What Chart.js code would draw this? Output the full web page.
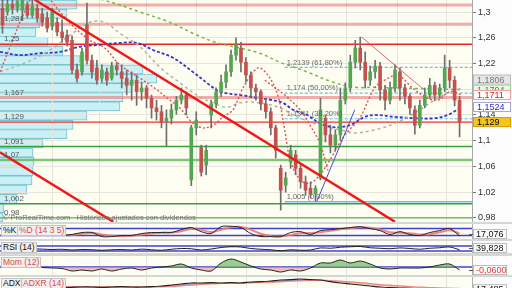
<!DOCTYPE html>
<html>
<head>
<meta charset="utf-8">
<script src="https://cdn.jsdelivr.net/npm/chart.js@4.4.0/dist/chart.umd.min.js"></script>
<style>
  body { margin: 0; background: #fff; }
  #wrap { position: relative; width: 512px; height: 288px; overflow: hidden; background: #d3d7d7; font-family: "Liberation Sans", Arial, sans-serif; }
  .pane { position: absolute; left: 0; width: 512px; background: #fdfdf2; overflow: hidden; }
  .rbg { position: absolute; left: 472px; top: 0; width: 40px; height: 100%; background: #fcfcfc; }
  canvas { position: absolute; left: 0; top: 0; }
  .ttl { position: absolute; top: 1px; font-size: 8.5px; line-height: 9px; padding: 0 1px; background: #f0f0ee; border: 1px solid #c4c4c4; color: #111; white-space: nowrap; }
  .red { color: #e04848; }
  .foot { position: absolute; left: 3px; top: 213px; font-size: 7.5px; color: #777; white-space: pre; }
</style>
</head>
<body>
<div id="wrap">
  <div class="pane" style="top:0;height:222px">
    <div class="rbg"></div>
    <canvas id="profile" width="472" height="222"></canvas>
    <canvas id="main" width="512" height="222"></canvas>
    <div class="foot">© ProRealTime.com   Históricos ajustados con dividendos</div>
  </div>
  <div class="pane" style="top:224px;height:15px">
    <div class="rbg"></div>
    <canvas id="stoch" width="512" height="15"></canvas>
    <div class="ttl" style="left:1px">%K</div><div class="ttl red" style="left:17px">%D (14 3 5)</div>
  </div>
  <div class="pane" style="top:241px;height:12px">
    <div class="rbg"></div>
    <canvas id="rsi" width="512" height="12"></canvas>
    <div class="ttl" style="left:1px">RSI (14)</div>
  </div>
  <div class="pane" style="top:256px;height:19px">
    <div class="rbg"></div>
    <canvas id="mom" width="512" height="19"></canvas>
    <div class="ttl red" style="left:1px">Mom (12)</div>
  </div>
  <div class="pane" style="top:277px;height:23px">
    <div class="rbg"></div>
    <canvas id="adx" width="512" height="23"></canvas>
    <div class="ttl" style="left:1px">ADX</div><div class="ttl red" style="left:21px">ADXR (14)</div>
  </div>
</div>
<script>
// candles, one per bar slot
const opens = [1.306,1.300,1.312,1.306,1.303,1.311,1.295,1.306,1.297,1.291,1.278,1.284,1.269,1.264,1.256,1.210,1.207,1.280,1.225,1.213,
  1.197,1.207,1.197,1.216,1.207,1.197,1.186,1.194,1.176,1.182,1.166,1.151,1.145,1.129,1.135,1.148,1.163,1.171,1.039,1.120,
  1.089,1.062,1.140,1.157,1.176,1.191,1.207,1.233,1.244,1.222,1.202,1.182,1.176,1.157,1.145,1.120,1.057,1.031,1.067,1.078,
  1.057,1.036,1.026,1.017,1.042,1.135,1.109,1.093,1.109,1.163,1.182,1.222,1.244,1.222,1.194,1.207,1.216,1.179,1.163,1.182,
  1.207,1.182,1.169,1.148,1.124,1.155,1.171,1.186,1.171,1.182,1.213,1.194,1.163];
const highs = [1.319,1.325,1.328,1.331,1.331,1.316,1.322,1.312,1.306,1.300,1.306,1.291,1.288,1.272,1.263,1.219,1.244,1.314,1.233,1.225,
  1.218,1.213,1.222,1.222,1.218,1.210,1.207,1.202,1.191,1.186,1.171,1.163,1.155,1.148,1.157,1.169,1.182,1.176,1.124,1.145,
  1.093,1.093,1.163,1.182,1.202,1.218,1.241,1.260,1.253,1.229,1.207,1.188,1.179,1.166,1.151,1.124,1.062,1.051,1.093,1.085,
  1.062,1.045,1.036,1.030,1.166,1.140,1.124,1.117,1.182,1.190,1.233,1.256,1.261,1.238,1.216,1.225,1.222,1.186,1.191,1.218,
  1.213,1.188,1.173,1.154,1.163,1.182,1.197,1.191,1.188,1.233,1.225,1.200,1.169];
const lows = [1.267,1.295,1.297,1.300,1.288,1.291,1.291,1.284,1.278,1.269,1.272,1.263,1.253,1.247,1.204,1.191,1.202,1.219,1.197,1.188,
  1.191,1.186,1.194,1.202,1.182,1.171,1.163,1.155,1.163,1.151,1.135,1.132,1.120,1.092,1.126,1.141,1.157,1.140,1.030,1.109,
  1.045,1.047,1.120,1.151,1.169,1.182,1.200,1.225,1.207,1.191,1.168,1.163,1.148,1.135,1.109,1.073,0.992,1.020,1.057,1.047,
  1.026,1.015,1.011,1.006,1.039,1.098,1.081,1.085,1.101,1.157,1.176,1.213,1.210,1.182,1.186,1.197,1.163,1.148,1.157,1.176,
  1.163,1.157,1.141,1.110,1.120,1.151,1.166,1.163,1.166,1.176,1.182,1.154,1.106];
const closes = [1.280,1.312,1.306,1.316,1.319,1.295,1.309,1.291,1.284,1.275,1.300,1.269,1.260,1.253,1.210,1.197,1.238,1.225,1.207,1.194,
  1.210,1.194,1.216,1.210,1.197,1.186,1.194,1.176,1.182,1.166,1.151,1.145,1.129,1.135,1.148,1.163,1.171,1.151,1.120,1.132,
  1.051,1.085,1.157,1.176,1.191,1.207,1.233,1.249,1.222,1.202,1.182,1.176,1.157,1.145,1.120,1.085,1.023,1.042,1.085,1.057,
  1.036,1.023,1.017,1.026,1.148,1.109,1.093,1.109,1.163,1.182,1.222,1.244,1.222,1.194,1.207,1.216,1.179,1.163,1.182,1.210,
  1.182,1.169,1.151,1.124,1.155,1.171,1.186,1.171,1.182,1.213,1.194,1.163,1.129];

const priceTicks = [0.98, 1, 1.02, 1.04, 1.06, 1.08, 1.1, 1.12, 1.14, 1.16, 1.18, 1.2, 1.22, 1.24, 1.26, 1.28, 1.3];
const hiddenTicks = [1.16, 1.18];
const monthTicks = [10, 19.6, 29, 39.1, 49.2, 59.3, 69.3, 79.6, 89.4];

// volume by price (left profile)
const profileLevels = ['1,311','1,297','1,283','1,269','1,254','1,240','1,226','1,211','1,197','1,183','1,168','1,154',
  '1,140','1,126','1,111','1,097','1,083','1,068','1,054','1,040','1,025','1,011','0,997','0,982'];
const profileVol = [77,67,40,36,48,63,80,143,157,132,123,120,87,73,67,43,33,34,33,32,27,17,4,3];

// horizontal support / resistance
const hLevels = [1.311, 1.281, 1.25, 1.167, 1.129, 1.091, 1.07, 1.002, 0.98];
const hLabels = ['', '1,281', '1,25', '1,167', '1,129', '1,091', '1,07', '1,002', '0,98'];
const hColors = ['rgba(236,120,120,0.6)','rgba(236,120,120,0.6)','#ee2424','rgba(236,120,120,0.6)','#ee3030','#38a038','rgba(70,175,70,0.7)','#38a038','#38a038'];
const hWidths = [3, 3, 1.5, 3, 1.2, 1.5, 2.5, 1.5, 1];

// fibonacci retracement
const fibLevels = [1.2139, 1.174, 1.1341, 1.005];
const fibLabels = ['1,2139 (61,80%)', '1,174 (50,00%)', '1,1341 (38,20%)', '1,005 (0,00%)'];
const fibFrom = 56.8;

// moving averages (bar index, price)
const redAX = [-0.5,1.9,3.9,6.3,8.6,11.6,14.6,17.6,20.6,23.6,28.3,31.1,33.7,35.7,38.1,40.3,42.4,44.4,46.4,48.4,51.4,53.4,55.4,56.8,57.9,59.9,61.9,63.9,65.9,68.9,71.9,75,77.6,79.6,82.4,85,87.6,90,92.5];
const redAY = [1.207,1.253,1.291,1.326,1.326,1.300,1.275,1.256,1.244,1.218,1.194,1.179,1.163,1.151,1.129,1.120,1.124,1.137,1.148,1.182,1.213,1.202,1.171,1.117,1.070,1.039,1.034,1.047,1.070,1.109,1.135,1.183,1.197,1.202,1.183,1.168,1.163,1.176,1.1711];
const redBX = [52.8,56.8,59.9,61.9,63.9,65.5];
const redBY = [1.194,1.171,1.148,1.124,1.096,1.054];
const blueX = [-0.5,3.5,7.5,11.6,15.6,19.6,23.6,27.1,30.3,34.3,38.3,41.8,43.8,47.8,51.8,54.4,56.4,58.5,61.3,63.9,66.5,69.9,72.9,75,79,83,87,89.6,92.5];
const blueY = [1.238,1.233,1.236,1.238,1.246,1.249,1.252,1.252,1.241,1.229,1.207,1.186,1.176,1.171,1.166,1.163,1.159,1.148,1.140,1.127,1.121,1.124,1.137,1.140,1.137,1.135,1.135,1.140,1.1524];
const greenX = [11.6,20.2,23.6,27.7,33.7,38.3,43.2,47.8,51.8,55.8,61.3,66.5,70.9,75,79,84.4,89.6,92.5];
const greenY = [1.337,1.319,1.311,1.300,1.284,1.267,1.252,1.244,1.236,1.222,1.207,1.191,1.183,1.183,1.182,1.181,1.180,1.1794];
const greyX = [-0.5,4.9,9.6,13.6,17.6,20.6,23.6,27.7,31.7,35.7,39.7,42.4,45.2,47.8,51.8,55.8,59.9,63.9,67.9,70.9,75,79,83,87,91,92.5];
const greyY = [1.207,1.222,1.241,1.264,1.284,1.284,1.267,1.246,1.214,1.190,1.168,1.159,1.152,1.159,1.159,1.151,1.135,1.124,1.117,1.112,1.117,1.127,1.143,1.163,1.179,1.1806];

// trend lines
const trendX = [6.5, 79], trendY = [1.319, 0.974];
const channelX = [-0.5, 22.3], channelY = [1.082, 0.974];
const peakLineX = [72.3, 84.4], peakLineY = [1.261, 1.182];
const upLineX = [63.3, 70.9], upLineY = [1.006, 1.148];

// last values shown on the price axis
const axisVals = [1.1806, 1.1794, 1.1711, 1.1524, 1.129];
const axisFg = ['#777', '#3a9a2a', '#d42020', '#2a2ad0', '#000'];
const axisBg = ['#e6e6e6', '#eef6ea', '#ffffff', '#ffffff', '#f5c518'];
const axisBd = ['#bbb', '#9c9', '#e8a0a0', '#a8a8d8', '#d4a000'];

// indicators, one value every second bar
const stochK = [null,null,null,null,null,null,20,29,46,46,11,11,20,20,37,46,46,46,71,89,54,37,97,100,89,37,11,11,11,46,54,29,63,71,80,89,97,80,63,29,54,29,20,46,63,80,17.076];
const stochD = [null,null,null,null,null,null,25,24,35,44,30,18,14,18,28,38,45,46,58,76,70,50,70,92,95,70,35,16,12,25,42,42,48,62,74,84,92,88,72,48,44,40,30,32,48,66,40];
const rsi = [null,null,null,48,45,42,44,38,42,40,36,40,42,38,45,40,36,44,50,48,38,46,58,64,62,50,44,40,32,40,36,38,55,52,60,64,66,56,52,48,55,50,44,52,56,62,39.828];
const mom = [null,null,null,null,-0.01,-0.02,-0.03,-0.08,-0.06,-0.08,-0.04,-0.08,-0.04,-0.02,-0.06,-0.02,0,0.02,0.06,-0.02,-0.06,-0.08,0.08,0.16,0.10,0.02,-0.04,-0.06,-0.10,-0.06,-0.08,-0.02,0.08,0.08,0.14,0.08,0.12,0.06,-0.02,-0.04,-0.02,-0.02,-0.02,0,0.04,0.06,-0.06];
const adx = [null,null,null,null,null,null,22,23,24,24,23,24,25,24,24,25,27,30,33,36,36,37,36,37,36,39,40,42,45,46,48,46,45,40,36,33,30,27,24,22,21,20,19,18,18,17,17.485];
const adxr = [null,null,null,null,null,null,25,25,25,24,24,24,24,24,24,24,25,26,28,30,32,34,35,36,36,37,38,39,40,42,43,44,44,43,41,39,37,34,31,29,27,25,23,22,21,20,19.5];

Chart.defaults.font.family = '"Liberation Sans", Arial, sans-serif';

const pts = (xs, ys) => xs.map((x, k) => ({x, y: ys[k]}));
const everyOther = vals => vals.map((v, k) => ({x: 2 * k, y: v}));
const across = v => [{x: -0.5, y: v}, {x: 94.5, y: v}];
const comma = v => String(v).replace('.', ',');

const line = (data, color, width, dash, order, tension) => ({
  type: 'line', data, borderColor: color, borderWidth: width, borderDash: dash,
  pointRadius: 0, fill: false, tension: tension || 0, order
});

const xScale = () => ({
  type: 'linear', min: -0.5, max: 94.5, offset: false,
  ticks: {display: false},
  grid: {color: '#e4e4da', drawTicks: false, offset: false},
  border: {display: false},
  afterBuildTicks: s => { s.ticks = monthTicks.map(v => ({value: v})); },
  afterFit: s => { s.height = 0; s.paddingLeft = 0; s.paddingRight = 0; }
});

// left volume profile
new Chart(document.getElementById('profile'), {
  type: 'bar',
  data: {
    labels: profileLevels,
    datasets: [{
      data: profileVol,
      backgroundColor: 'rgba(196,238,246,0.9)',
      borderColor: 'rgba(110,190,200,0.9)',
      borderWidth: 1,
      barPercentage: 1,
      categoryPercentage: 1
    }]
  },
  options: {
    indexAxis: 'y',
    responsive: false, animation: false,
    layout: {padding: 0},
    plugins: {legend: {display: false}, tooltip: {enabled: false}},
    scales: {
      x: {type: 'linear', min: 0, max: 472, display: false},
      y: {display: false}
    }
  }
});

const mainDatasets = [];
hLevels.forEach((v, i) => mainDatasets.push(line(across(v), hColors[i], hWidths[i], [], 10)));
fibLevels.forEach((v, i) => mainDatasets.push(line([{x: fibFrom, y: v}, {x: 94.5, y: v}], '#5cc4ee',
  i === 3 ? 1.5 : 1.2, i === 3 ? [] : [3, 2], 9)));
mainDatasets.push(line(pts(greyX, greyY), '#b2b2aa', 1.5, [3, 3], 6, 0.35));
mainDatasets.push(line(pts(greenX, greenY), '#74b84c', 1.5, [3, 3], 6, 0.35));
mainDatasets.push(line(pts(blueX, blueY), '#3434cc', 1.8, [3, 2], 6, 0.35));
mainDatasets.push(line(pts(redAX, redAY), '#e05252', 1.4, [2, 2], 5, 0.35));
mainDatasets.push(line(pts(redBX, redBY), '#e05252', 1.4, [2, 2], 5, 0.35));
mainDatasets.push({
  type: 'bar', grouped: false, order: 3, barThickness: 1,
  data: lows.map((l, i) => ({x: i, y: [l, highs[i]]})),
  backgroundColor: '#6e6e6e'
});
mainDatasets.push({
  type: 'bar', grouped: false, order: 2, barThickness: 3,
  data: opens.map((o, i) => ({x: i, y: [o, closes[i]]})),
  backgroundColor: closes.map((c, i) => c >= opens[i] ? '#52a852' : '#c45050')
});
mainDatasets.push(line(pts(trendX, trendY), '#f01818', 2.5, [], 1));
mainDatasets.push(line(pts(channelX, channelY), '#f01818', 2.5, [], 1));
mainDatasets.push(line(pts(peakLineX, peakLineY), 'rgba(235,70,70,0.85)', 1, [], 1));
mainDatasets.push(line(pts(upLineX, upLineY), '#4848e0', 1, [], 1));

const mainText = {
  id: 'mainText',
  afterDatasetsDraw(chart) {
    const {ctx, scales: {x, y}} = chart;
    ctx.save();
    ctx.font = '8px "Liberation Sans", Arial, sans-serif';
    ctx.fillStyle = '#555';
    ctx.textBaseline = 'bottom';
    hLevels.forEach((v, i) => { if (hLabels[i]) ctx.fillText(hLabels[i], 4, y.getPixelForValue(v) - 1); });
    ctx.font = '7.5px "Liberation Sans", Arial, sans-serif';
    ctx.fillStyle = '#666';
    fibLevels.forEach((v, i) => ctx.fillText(fibLabels[i], x.getPixelForValue(fibFrom) + 2, y.getPixelForValue(v) - 1));
    ctx.restore();
  },
  afterDraw(chart) {
    const {ctx, chartArea, scales: {y}} = chart;
    const pos = axisVals.map(v => y.getPixelForValue(v));
    for (let i = pos.length - 2; i >= 0; i--) {
      for (let j = i + 1; j < pos.length; j++) {
        if (Math.abs(pos[i] - pos[j]) < 3) pos[i] = pos[j] - 10;
      }
    }
    ctx.save();
    ctx.font = '9px "Liberation Sans", Arial, sans-serif';
    ctx.textBaseline = 'middle';
    const left = chartArea.right + 1;
    axisVals.forEach((v, i) => {
      ctx.fillStyle = axisBg[i];
      ctx.fillRect(left, pos[i] - 5, 38, 10);
      ctx.strokeStyle = axisBd[i];
      ctx.lineWidth = 1;
      ctx.strokeRect(left + 0.5, pos[i] - 4.5, 37, 9);
      ctx.fillStyle = axisFg[i];
      ctx.fillText(comma(v), left + 4, pos[i] + 0.5);
    });
    ctx.restore();
  }
};

new Chart(document.getElementById('main'), {
  type: 'bar',
  data: {datasets: mainDatasets},
  options: {
    responsive: false, animation: false,
    layout: {padding: 0},
    plugins: {legend: {display: false}, tooltip: {enabled: false}},
    scales: {
      x: xScale(),
      y: {
        position: 'right', min: 0.9736, max: 1.3187,
        afterBuildTicks: s => { s.ticks = priceTicks.map(v => ({value: v})); },
        ticks: {
          color: '#333', font: {size: 9}, padding: 2,
          callback: v => hiddenTicks.includes(v) ? '' : comma(v)
        },
        grid: {color: '#e6e6dc', tickColor: '#777', tickLength: 4},
        border: {color: '#a8a8a8'},
        afterFit: s => { s.width = 40; s.paddingTop = 0; s.paddingBottom = 0; }
      }
    }
  },
  plugins: [mainText]
});

function panel(id, yMin, yMax, datasets, last, digits, lastColor) {
  return new Chart(document.getElementById(id), {
    type: 'line',
    data: {datasets},
    options: {
      responsive: false, animation: false,
      layout: {padding: 0},
      plugins: {legend: {display: false}, tooltip: {enabled: false}},
      scales: {
        x: xScale(),
        y: {
          position: 'right', min: yMin, max: yMax,
          ticks: {display: false}, grid: {display: false},
          border: {color: '#b0b0b0'},
          afterFit: s => { s.width = 40; s.paddingTop = 0; s.paddingBottom = 0; }
        }
      }
    },
    plugins: [{
      id: 'lastBox',
      afterDraw(chart) {
        const {ctx, chartArea, scales: {y}} = chart;
        const h = chart.height;
        let py = Math.min(Math.max(y.getPixelForValue(last), 5), h - 5);
        const left = chartArea.right + 1;
        ctx.save();
        ctx.fillStyle = '#555';
        ctx.fillRect(left - 4, Math.round(py), 4, 1);
        ctx.fillStyle = '#fafafa';
        ctx.fillRect(left, py - 5, 34, 10);
        ctx.strokeStyle = '#bdbdbd';
        ctx.strokeRect(left + 0.5, py - 4.5, 33, 9);
        ctx.fillStyle = lastColor;
        ctx.font = '9px "Liberation Sans", Arial, sans-serif';
        ctx.textBaseline = 'middle';
        ctx.fillText(last.toFixed(digits).replace('.', ','), left + 3, py + 0.5);
        ctx.restore();
      }
    }]
  });
}

panel('stoch', -10, 120, [
  line(across(80), '#4040d0', 1.5, [], 3),
  line(across(20), '#4040d0', 1.5, [], 3),
  line(everyOther(stochD), 'rgba(240,120,120,0.9)', 2, [], 2, 0.3),
  line(everyOther(stochK), '#222', 1, [], 1, 0.3)
], stochK[stochK.length - 1], 3, '#111');

panel('rsi', 14, 110, [
  line(across(70), '#4040d0', 1.5, [], 3),
  line(across(30), '#4040d0', 1.5, [], 3),
  line(everyOther(rsi), '#222', 1, [], 1, 0.3)
], rsi[rsi.length - 1], 3, '#111');

const momDs = line(everyOther(mom), '#222', 1, [], 1, 0.3);
momDs.fill = {target: {value: 0}, above: 'rgba(120,190,110,0.75)', below: 'rgba(240,150,150,0.65)'};
panel('mom', -0.16, 0.22, [
  line(across(0), '#4040d0', 1.5, [], 3),
  momDs
], mom[mom.length - 1], 4, '#e04040');

const adxDs = line(everyOther(adx), '#222', 1.2, [], 1, 0.3);
adxDs.fill = {target: 1, above: 'rgba(130,130,220,0.55)', below: 'rgba(240,165,165,0.5)'};
panel('adx', -15, 54, [
  adxDs,
  line(everyOther(adxr), 'rgba(240,120,120,0.9)', 1.5, [], 2, 0.3)
], adx[adx.length - 1], 3, '#111');
</script>
</body>
</html>
